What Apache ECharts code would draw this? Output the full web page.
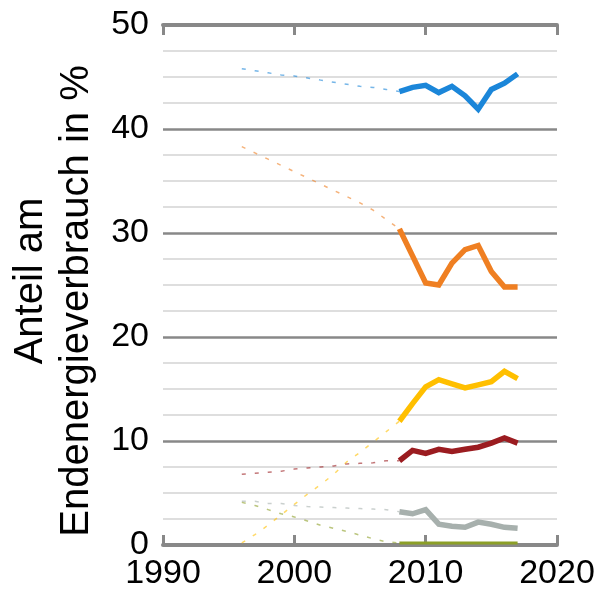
<!DOCTYPE html>
<html>
<head>
<meta charset="utf-8">
<script src="https://cdn.jsdelivr.net/npm/echarts@6/dist/echarts.min.js"></script>
<style>
html,body{margin:0;padding:0;background:#fff;}
#chart{width:600px;height:592px;}
</style>
</head>
<body>
<div id="chart"></div>
<script>
// Years
const yearsEarly = [1996,1997,1998,1999,2000,2001,2002,2003,2004,2005,2006,2007,2008];
const yearsLate = [2008,2009,2010,2011,2012,2013,2014,2015,2016,2017];
const xTicks = [1990, 2000, 2010, 2020];
const yTicks = [0, 10, 20, 30, 40, 50];
const yTitleLines = ['Anteil am', 'Endenergieverbrauch in %'];

// Early (dashed) values 1996-2008
const blueEarly   = [45.8,45.6,45.4,45.2,45.1,44.9,44.7,44.5,44.3,44.1,44.0,43.8,43.6];
const orangeEarly = [38.3,37.7,37.1,36.5,35.9,35.3,34.7,34.1,33.5,32.9,32.2,31.3,30.4];
const yellowEarly = [0.2,1.0,1.9,2.9,3.9,4.9,5.8,6.8,8.0,8.9,9.9,10.9,11.9];
const redEarly    = [6.8,6.9,7.0,7.1,7.3,7.4,7.5,7.6,7.8,7.85,7.9,8.1,8.1];
const grayEarly   = [4.2,4.2,4.0,4.0,3.8,3.7,3.65,3.6,3.55,3.5,3.45,3.4,3.2];
const greenEarly  = [4.1,3.8,3.4,3.0,2.7,2.3,1.9,1.6,1.3,0.95,0.6,0.3,0.2];

// Late (solid) values 2008-2017
const blueLate   = [43.6,44.0,44.2,43.5,44.1,43.2,41.9,43.8,44.4,45.3];
const orangeLate = [30.4,27.8,25.2,25.0,27.1,28.4,28.8,26.3,24.8,24.8];
const yellowLate = [11.9,13.6,15.2,15.9,15.5,15.1,15.4,15.7,16.7,16.0];
const redLate    = [8.1,9.1,8.8,9.2,9.0,9.2,9.4,9.8,10.3,9.8];
const grayLate   = [3.2,3.0,3.4,2.0,1.8,1.7,2.2,2.0,1.7,1.6];
const greenLate  = [0.2,0.2,0.2,0.2,0.2,0.2,0.2,0.2,0.2,0.2];

const colors = {
  blue: '#1b86d9', orange: '#ef7f22', yellow: '#ffbf00',
  red: '#9b1c20', gray: '#a7b0ad', green: '#8c9f27'
};

const zip = (xs, ys) => xs.map((x, i) => [x, ys[i]]);

const early = [
  ['blue', blueEarly], ['orange', orangeEarly], ['yellow', yellowEarly],
  ['red', redEarly], ['gray', grayEarly], ['green', greenEarly]
];
const late = [
  ['green', greenLate], ['gray', grayLate], ['red', redLate],
  ['yellow', yellowLate], ['orange', orangeLate], ['blue', blueLate]
];

const series = [];
early.forEach(([c, vals]) => series.push({
  type: 'line', xAxisIndex: 0, yAxisIndex: 0, data: zip(yearsEarly, vals),
  showSymbol: false, silent: true,
  lineStyle: { color: colors[c], width: 1.5, opacity: 0.6, type: [4, 9] }
}));
late.forEach(([c, vals]) => series.push({
  type: 'line', xAxisIndex: 0, yAxisIndex: 0, data: zip(yearsLate, vals),
  showSymbol: false, silent: true,
  lineStyle: { color: colors[c], width: c === 'green' ? 3 : 5.5, join: 'miter' }
}));

const font = 'Liberation Sans, Arial, sans-serif';
const chart = echarts.init(document.getElementById('chart'), null, { renderer: 'canvas' });
chart.setOption({
  animation: false,
  backgroundColor: '#fff',
  grid: { left: 163, right: 43, top: 25, bottom: 47, containLabel: false },
  graphic: [
    { type: 'text', x: 31, y: 281, rotation: Math.PI / 2, silent: true,
      style: { text: yTitleLines[0], fill: '#000', font: '40px ' + font, align: 'center', verticalAlign: 'middle' } },
    { type: 'text', x: 77, y: 301, rotation: Math.PI / 2, silent: true,
      style: { text: yTitleLines[1], fill: '#000', font: '40px ' + font, align: 'center', verticalAlign: 'middle' } }
  ],
  xAxis: [{
    type: 'value', position: 'bottom', min: xTicks[0], max: xTicks[xTicks.length - 1], interval: 10,
    axisLine: { show: true, onZero: false, lineStyle: { color: '#888', width: 4 } },
    axisTick: { show: true, inside: true, length: 10, lineStyle: { color: '#888', width: 3 } },
    axisLabel: { color: '#000', fontSize: 34, fontFamily: font, margin: 12, formatter: v => String(v) },
    splitLine: { show: false }
  }, {
    type: 'value', position: 'top', min: xTicks[0], max: xTicks[xTicks.length - 1], interval: 10,
    axisLine: { show: true, onZero: false, lineStyle: { color: '#888', width: 4 } },
    axisTick: { show: true, inside: true, length: 10, lineStyle: { color: '#888', width: 3 } },
    axisLabel: { show: false },
    splitLine: { show: false }
  }],
  yAxis: {
    type: 'value', min: yTicks[0], max: yTicks[yTicks.length - 1], interval: 10,
    axisLine: { show: false },
    axisTick: { show: false },
    axisLabel: { color: '#000', fontSize: 34, fontFamily: font, margin: 14, formatter: v => String(v) },
    splitLine: { show: true, lineStyle: { color: '#888', width: 2.5 } },
    minorTick: { show: false, splitNumber: 4 },
    minorSplitLine: { show: true, lineStyle: { color: '#d4d4d4', width: 1.5 } }
  },
  series: series
});
</script>
</body>
</html>
